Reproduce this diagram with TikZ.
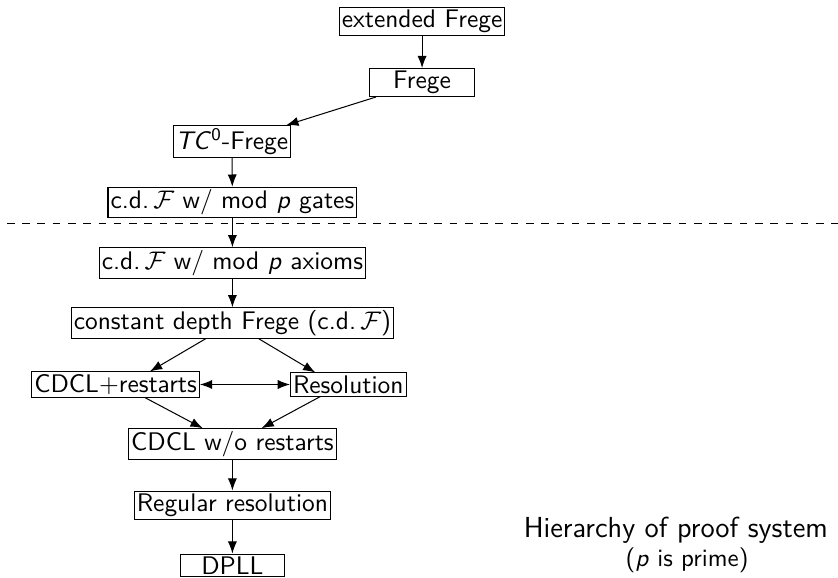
\documentclass[tikz,border=0pt]{standalone}
\usepackage{amsmath}
\usepackage{amssymb}
\usepackage{tikz}
\usetikzlibrary{arrows.meta,positioning,calc}

\begin{document}
\begin{tikzpicture}[font=\sffamily,
    sysbox/.style={draw, inner sep=1pt, minimum width=1.44cm},
    arr/.style={-Latex}]
  \useasboundingbox (0,0) rectangle (11.575,7.97);
  \clip (0,0) rectangle (11.575,7.97);
  % upper part of the hierarchy
  \node[sysbox] (ef) at (5.83,7.672) {extended Frege};
  \node[sysbox] (frege) at (5.83,6.83) {Frege};
  \node[sysbox] (tc) at (3.204,6.015) {\textit{TC}\textsuperscript{0}-Frege};
  \node[sysbox] (gates) at (3.21,5.173) {c.d.\,$\mathcal{F}$ w/ mod \textit{p} gates};
  \draw[dashed] (-0.115,4.876) -- (11.7,4.876);
  % lower part
  \node[sysbox] (axioms) at (3.21,4.337) {c.d.\,$\mathcal{F}$ w/ mod \textit{p} axioms};
  \node[sysbox] (cd) at (3.21,3.508) {constant depth Frege (c.d.\,$\mathcal{F}$)};
  \node[sysbox, anchor=east] (cdclr) at (2.762,2.659) {CDCL$+$restarts};
  \node[sysbox, anchor=west] (res) at (4.005,2.659) {Resolution};
  \node[sysbox] (cdlw) at (3.21,1.837) {CDCL w/o restarts};
  \node[sysbox] (reg) at (3.21,0.994) {Regular resolution};
  \node[sysbox] (dpll) at (3.21,0.159) {DPLL};
  \node[anchor=base east, font=\sffamily\fontsize{11.4}{13}\selectfont] (title) at (11.56,0.552) {Hierarchy of proof system};
  \node[anchor=base, font=\sffamily\fontsize{9.8}{11}\selectfont] (note) at (9.49,0.152) {(\textit{p} is prime)};

  \draw[arr] (ef) -- (frege);
  \draw[arr] (frege) -- ([xshift=-0.07cm]tc.north east);
  \draw[arr] (tc) -- (gates);
  \draw[arr] (gates) -- (axioms);
  \draw[arr] (axioms) -- (cd);
  \draw[arr] (cd) -- ([xshift=-0.69cm]cdclr.north east);
  \draw[arr] (cd) -- ([xshift=0.35cm]res.north west);
  \draw[Latex-Latex] (cdclr) -- (res);
  \draw[arr] ([xshift=-0.76cm]cdclr.south east) -- (cdlw);
  \draw[arr] ([xshift=0.42cm]res.south west) -- (cdlw);
  \draw[arr] (cdlw) -- (reg);
  \draw[arr] (reg) -- (dpll);
\end{tikzpicture}
\end{document}
